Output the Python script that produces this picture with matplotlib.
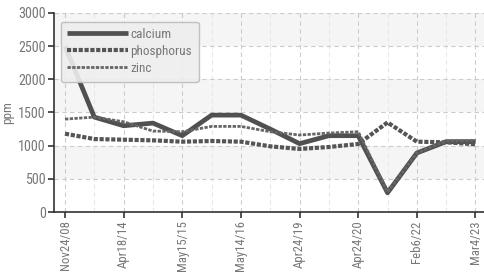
import matplotlib
matplotlib.use("Agg")
import matplotlib.pyplot as plt
import numpy as np

# sample dates (every other one labelled)
dates = ["Nov24/08", "", "Apr18/14", "", "May15/15", "", "May14/16", "",
         "Apr24/19", "", "Apr24/20", "", "Feb6/22", "", "Mar4/23"]

calcium = [2500, 1430, 1300, 1340, 1150, 1460, 1460, 1250, 1030, 1150, 1150, 290, 890, 1060, 1060]
phosphorus = [1180, 1100, 1090, 1080, 1060, 1070, 1060, 990, 950, 980, 1025, 1350, 1060, 1050, 1020]
zinc = [1400, 1430, 1360, 1220, 1210, 1290, 1290, 1210, 1160, 1190, 1210, 300, 890, 1070, 1080]

plt.rcParams["font.family"] = ["Roboto Condensed", "Liberation Sans Narrow", "DejaVu Sans"]
plt.rcParams["font.stretch"] = "condensed"

fig = plt.figure(figsize=(4.84, 2.75), dpi=100)
ax = fig.add_axes([0.1116, 0.229, 0.889, 0.724])

x = np.arange(len(dates))

# alternating background bands
for lo in range(0, 3000, 500):
    if (lo // 500) % 2 == 1:
        ax.axhspan(lo, lo + 500, color="#f5f5f5", zorder=0, lw=0)

ax.plot(x, calcium, color="#505050", lw=3.4, solid_capstyle="butt", label="calcium", zorder=3)
ax.plot(x, phosphorus, color="#555555", lw=3.0, linestyle=(0, (1.0, 0.4)), label="phosphorus", zorder=4)
ax.plot(x, zinc, color="#666666", lw=2.0, linestyle=(0, (1.2, 0.5)), label="zinc", zorder=5)

ax.set_xlim(-0.375, 14.3)
ax.set_ylim(0, 3000)
ax.set_yticks(range(0, 3001, 500))
ax.set_xticks(x[::2])
ax.set_xticklabels([d for d in dates[::2]], rotation=90)
ax.set_xticks(x[1::2], minor=True)

ax.grid(True, which="major", color="#cccccc", linestyle=(0, (4, 3)), lw=0.8)
ax.grid(True, which="minor", axis="x", color="#e6e6e6", linestyle=(0, (4, 3)), lw=0.8)
ax.tick_params(which="minor", length=0)
ax.tick_params(which="major", colors="#333333", labelcolor="#777777", labelsize=9.2, length=4, width=1.2, pad=2)
ax.tick_params(axis="y", labelsize=10.2)

for s in ["top", "right"]:
    ax.spines[s].set_visible(False)
for s in ["left", "bottom"]:
    ax.spines[s].set_color("#333333")
    ax.spines[s].set_linewidth(1.2)

ax.set_ylabel("ppm", color="#777777", fontsize=9.5, labelpad=3)

leg = ax.legend(loc="upper left", bbox_to_anchor=(0.0, 0.99), fontsize=9.5, handlelength=4.6,
                handletextpad=0.2, labelspacing=0.3, borderpad=0.5, frameon=True, fancybox=True)
leg.get_frame().set_facecolor("#eeeeee")
leg.get_frame().set_edgecolor("#bbbbbb")
leg.get_frame().set_alpha(0.9)
for t in leg.get_texts():
    t.set_color("#777777")

fig.savefig("out.png", dpi=100)
